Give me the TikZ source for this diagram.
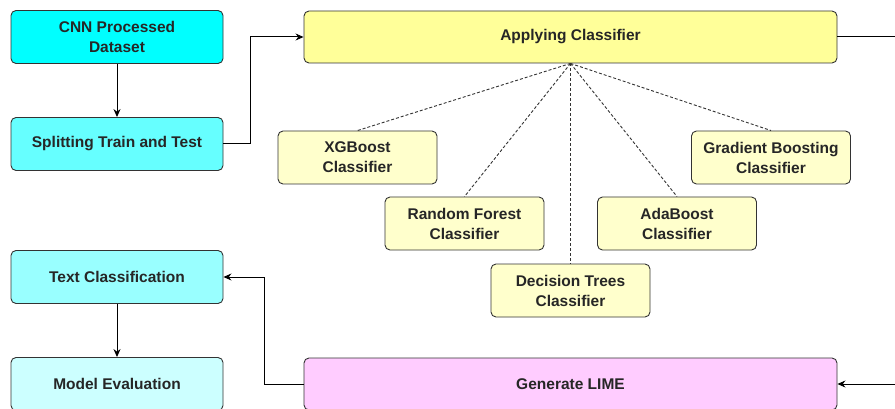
\documentclass[tikz,border=0pt]{standalone}
\usepackage{fontspec}
\setmainfont{Liberation Sans}
\usetikzlibrary{arrows.meta}
\definecolor{cyanA}{HTML}{00FFFF}
\definecolor{cyanB}{HTML}{66FFFF}
\definecolor{cyanC}{HTML}{99FFFF}
\definecolor{cyanD}{HTML}{CCFFFF}
\definecolor{yellowA}{HTML}{FFFF99}
\definecolor{yellowB}{HTML}{FFFFCC}
\definecolor{pinkA}{HTML}{FFCCFF}
\definecolor{edge}{HTML}{333333}
\tikzset{
  box/.style={draw=edge, line width=0.9pt, rounded corners=5pt, align=center,
    inner sep=0pt, text=black!85, font=\bfseries\fontsize{15.5}{20}\selectfont},
  wide/.style={box, minimum width=212pt, minimum height=53pt},
  long/.style={box, minimum width=533pt, minimum height=52pt},
  small/.style={box, fill=yellowB, minimum width=159pt, minimum height=53pt},
  flow/.style={draw=black, line width=1pt, -{Stealth[length=8pt,width=7pt]}},
  link/.style={draw=black!80, line width=0.9pt, dashed, dash pattern=on 3pt off 2pt},
}
\begin{document}
\begin{tikzpicture}[x=1pt, y=-1pt]
\useasboundingbox (0,0) rectangle (895,409);
\clip (0,0) rectangle (895,409);

% left column
\node[wide, fill=cyanA] (cnn)   at (117,37)  {CNN Processed\\Dataset};
\node[wide, fill=cyanB] (split) at (117,144) {Splitting Train and Test};
\node[wide, fill=cyanC] (text)  at (117,277) {Text Classification};
\node[wide, fill=cyanD] (eval)  at (117,384) {Model Evaluation};

% main stages
\node[long, fill=yellowA] (apply) at (570.5,37)  {Applying Classifier};
\node[long, fill=pinkA]   (lime)  at (570.5,384) {Generate LIME};

% classifiers
\node[small] (xgb) at (357.5,157.5) {XGBoost\\Classifier};
\node[small] (gb)  at (771,157.5)   {Gradient Boosting\\Classifier};
\node[small] (rf)  at (464.5,223.5) {Random Forest\\Classifier};
\node[small] (ada) at (677,223.5)   {AdaBoost\\Classifier};
\node[small] (dt)  at (570.5,290.5) {Decision Trees\\Classifier};

\coordinate (outR) at (895,37);
\coordinate (inR)  at (895,384);

% connectors
\draw[flow] (cnn.south) -- (split.north);
\draw[flow] (split.east) -- ++(27,0) |- (apply.west);
\draw[draw=black, line width=1pt] (apply.east) -- (outR);
\draw[flow] (inR) -- (lime.east);
\draw[flow] (lime.west) -- ++(-39,0) |- (text.east);
\draw[flow] (text.south) -- (eval.north);

\foreach \c in {xgb,gb,rf,ada,dt}
  \draw[link] (apply.south) -- (\c.north);
\end{tikzpicture}
\end{document}
